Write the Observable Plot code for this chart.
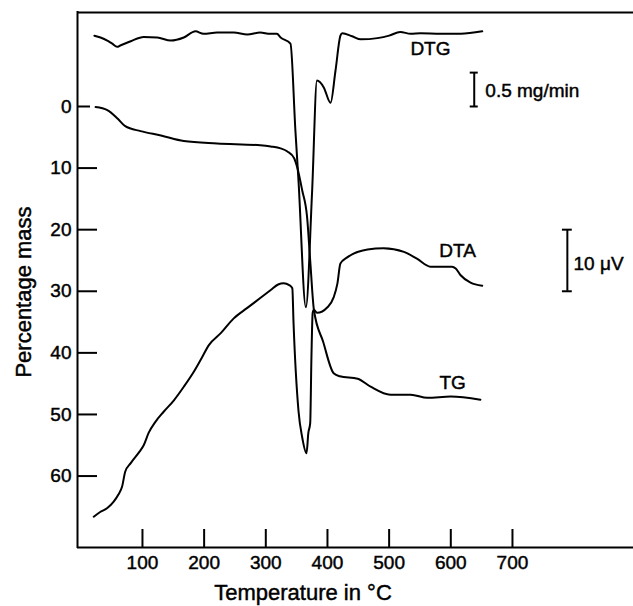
<!DOCTYPE html>
<html>
<head>
<meta charset="utf-8">
<script src="https://cdn.jsdelivr.net/npm/d3@7"></script>
<script src="https://cdn.jsdelivr.net/npm/@observablehq/plot@0.6"></script>
<style>
  html, body { margin: 0; padding: 0; background: #fff; }
  svg text { stroke: #000; stroke-width: 0.45px; }
</style>
</head>
<body>
<div id="chart"></div>
<script>
// ---- Data ----
// TG: percentage mass lost vs temperature
const tgTemp = [24, 43, 60, 72, 97, 130, 167, 221, 291, 308, 324, 335, 346, 351, 359, 367, 372, 378, 393, 410, 420, 449, 470, 502, 535, 562, 600, 648];
const tgMass = [0.1, 0.6, 2, 3.2, 4, 4.7, 5.6, 6, 6.3, 6.5, 6.8, 7.3, 8.4, 9.9, 13.6, 18, 25, 33, 38.2, 43.3, 43.8, 44.2, 45.5, 46.8, 46.8, 47.3, 47.1, 47.6];

// DTG curve (drawn on the same vertical frame, arbitrary offset)
const dtgTemp = [22, 32, 43, 51, 59, 64, 81, 102, 124, 146, 167, 186, 199, 221, 248, 270, 291, 307, 318, 324, 340, 348, 353, 365, 375, 383, 394, 405, 413, 421, 424, 440, 454, 481, 500, 518, 535, 551, 583, 616, 651];
const dtgLevel = [-11.5, -11.2, -10.7, -10.2, -9.7, -9.9, -10.6, -11.3, -11.2, -10.7, -11.2, -12.2, -11.8, -12, -12, -11.7, -12, -11.8, -11.8, -11.2, -10.2, 3.9, 12, 32.6, 14, -4.2, -3.1, -0.6, -5.8, -11.5, -11.9, -11.4, -10.9, -11.1, -11.5, -12.1, -11.8, -11.9, -11.8, -11.8, -12.2];

// DTA curve
const dtaTemp = [21, 32, 43, 53, 61, 67, 72, 81, 94, 102, 110, 121, 134, 151, 167, 183, 194, 208, 227, 248, 270, 291, 308, 320, 329, 338, 343, 345, 353, 359, 366, 369, 372, 374, 376, 378, 383, 400, 410, 416, 421, 432, 465, 491, 524, 545, 567, 583, 602, 608, 616, 632, 651];
const dtaLevel = [66.6, 65.8, 65.2, 64.2, 63, 61.7, 59.3, 57.9, 56.2, 55, 53, 51.2, 49.6, 47.7, 45.5, 43.1, 41.2, 38.7, 36.8, 34.4, 32.7, 31.1, 29.8, 28.9, 28.7, 29, 29.5, 35.2, 49.4, 53.7, 56.3, 53, 51.4, 40.7, 33.5, 33, 33.5, 32.6, 31, 28.8, 25.5, 24.5, 23.2, 23, 23.6, 24.7, 26, 26, 26, 26.3, 27.4, 28.6, 29.1];

// Axis ticks
const xTicks = [100, 200, 300, 400, 500, 600, 700];
const yTicks = [0, 10, 20, 30, 40, 50, 60];
const xDomain = [-5.35, 726];
const yDomain = [71.6, -15.26];

// Curve labels
const curveNames = ["DTG", "DTA", "TG"];
const curveLabelTemp = [567, 611, 603];
const curveLabelLevel = [-9.4, 23.4, 44.8];

// Scale bars
const barNames = ["0.5 mg/min", "10 \u03bcV"];
const barTemp = [638, 789];
const barFrom = [-5.5, 20];
const barTo = [0, 30];
const barHalf = [6.5, 8];
const barTextTemp = [656, 799];
const barTextLevel = [-2.6, 25.5];

// ---- Tables built from the arrays ----
const tg = tgTemp.map((t, i) => ({t, v: tgMass[i]}));
const dtg = dtgTemp.map((t, i) => ({t, v: dtgLevel[i]}));
const dta = dtaTemp.map((t, i) => ({t, v: dtaLevel[i]}));
const curveLabels = curveNames.map((name, i) => ({name, t: curveLabelTemp[i], v: curveLabelLevel[i]}));
const bars = barNames.map((name, i) => ({name, t: barTemp[i], v1: barFrom[i], v2: barTo[i],
  t1: barTemp[i] - barHalf[i], t2: barTemp[i] + barHalf[i], tt: barTextTemp[i], tv: barTextLevel[i]}));

const sw = 2;
const chart = Plot.plot({
  width: 633,
  height: 606,
  marginLeft: 77,
  marginRight: 105,
  marginTop: 12,
  marginBottom: 59,
  x: {domain: xDomain},
  y: {domain: yDomain},
  style: {fontFamily: "'Liberation Sans', Arial, Helvetica, sans-serif", fontSize: "19px", color: "#000", background: "#fff"},
  marks: [
    // frame lines (left, bottom, top)
    Plot.ruleX([xDomain[0]], {strokeWidth: sw, strokeLinecap: "square"}),
    Plot.ruleY([yDomain[0]], {strokeWidth: sw, insetRight: -105}),
    Plot.ruleY([yDomain[1]], {strokeWidth: sw, insetRight: -105}),
    // inward ticks (the 0 tick is shorter in the original)
    Plot.ruleY(yTicks.filter(d => d === 0), {x1: xDomain[0], x2: xDomain[0], insetRight: -13, strokeWidth: sw}),
    Plot.ruleY(yTicks.filter(d => d !== 0), {x1: xDomain[0], x2: xDomain[0], insetRight: -20, strokeWidth: sw}),
    Plot.ruleX(xTicks, {y1: yDomain[0], y2: yDomain[0], insetTop: -18, strokeWidth: sw}),
    // tick labels
    Plot.axisY({ticks: yTicks, tickSize: 0, tickPadding: 6, label: null}),
    Plot.axisX({ticks: xTicks, tickSize: 0, tickPadding: 8, label: null}),
    // axis titles
    Plot.text(["Percentage mass"], {frameAnchor: "left", textAnchor: "middle", lineAnchor: "middle", rotate: -90, dx: -54, dy: 12, fontSize: 22}),
    Plot.text(["Temperature in \u00b0C"], {frameAnchor: "bottom", textAnchor: "middle", lineAnchor: "middle", dy: 45, fontSize: 22}),
    // curves
    Plot.line(tg, {x: "t", y: "v", stroke: "#000", strokeWidth: sw, curve: "monotone-x"}),
    Plot.line(dtg, {x: "t", y: "v", stroke: "#000", strokeWidth: sw, curve: "monotone-x"}),
    Plot.line(dta, {x: "t", y: "v", stroke: "#000", strokeWidth: sw, curve: "monotone-x"}),
    // curve labels
    Plot.text(curveLabels, {x: "t", y: "v", text: "name", fontSize: 19}),
    // scale bars
    Plot.ruleX(bars, {x: "t", y1: "v1", y2: "v2", strokeWidth: sw}),
    Plot.ruleY(bars, {y: "v1", x1: "t1", x2: "t2", strokeWidth: sw}),
    Plot.ruleY(bars, {y: "v2", x1: "t1", x2: "t2", strokeWidth: sw}),
    Plot.text(bars, {x: "tt", y: "tv", text: "name", textAnchor: "start", fontSize: 19})
  ]
});
document.getElementById("chart").appendChild(chart);
</script>
</body>
</html>
